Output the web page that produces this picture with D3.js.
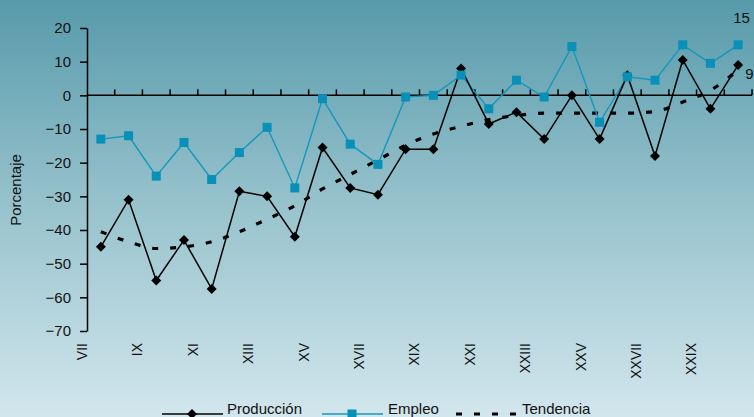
<!DOCTYPE html>
<html>
<head>
<meta charset="utf-8">
<script src="https://cdn.jsdelivr.net/npm/d3@7"></script>
<style>
  html, body { margin: 0; padding: 0; overflow: hidden; }
  svg { display: block; font-family: "Liberation Sans", Arial, sans-serif; }
</style>
</head>
<body>
<svg id="chart" width="754" height="417"></svg>
<script>
// Periods VII .. XXX
const categories = ["VII","VIII","IX","X","XI","XII","XIII","XIV","XV","XVI","XVII","XVIII",
  "XIX","XX","XXI","XXII","XXIII","XXIV","XXV","XXVI","XXVII","XXVIII","XXIX","XXX"];

const produccion = [-45, -31, -55, -43, -57.5, -28.5, -30, -42, -15.5, -27.5, -29.5, -16,
  -16, 8, -8.5, -5, -13, 0, -13, 6, -18, 10.5, -4, 9];

const empleo = [-13, -12, -24, -14, -25, -17, -9.5, -27.5, -1, -14.5, -20.5, -0.5,
  0, 6, -4, 4.5, -0.5, 14.5, -8, 5.5, 4.5, 15, 9.5, 15];

const tendencia = [-40.5, -43.5, -45.5, -45, -43.5, -40.5, -36.8, -32.8, -27.8, -23.5, -19.2, -14.8,
  -11.5, -9.2, -7.2, -6, -5.3, -5.3, -5.3, -5.3, -4.8, -2, 1.5, 7.5];

const yTicks = [20, 10, 0, -10, -20, -30, -40, -50, -60, -70];

const seriesNames = ["Producción", "Empleo", "Tendencia"];

const W = 754, H = 417;
const svg = d3.select("#chart");

// background gradient
const defs = svg.append("defs");
const grad = defs.append("linearGradient").attr("id", "bg")
  .attr("x1", 0).attr("y1", 0).attr("x2", 0).attr("y2", 1);
grad.append("stop").attr("offset", "0%").attr("stop-color", "#579aaa");
grad.append("stop").attr("offset", "50%").attr("stop-color", "#98c3cd");
grad.append("stop").attr("offset", "100%").attr("stop-color", "#d2e6ed");
svg.append("rect").attr("width", W).attr("height", H).attr("fill", "url(#bg)");

const plotL = 87, plotR = 752, plotT = 28, plotB = 331;

const x = d3.scaleBand().domain(categories).range([plotL, plotR]).paddingInner(0).paddingOuter(0);
const cx = c => x(c) + x.bandwidth() / 2;
const y = d3.scaleLinear().domain([-70, 20]).range([plotB, plotT]);

// y axis
const yAxis = svg.append("g")
  .attr("transform", `translate(${plotL},0)`)
  .call(d3.axisLeft(y).tickValues(yTicks).tickSize(7).tickPadding(9).tickSizeOuter(0));
yAxis.select(".domain").attr("stroke", "#000").attr("stroke-width", 1.5);
yAxis.selectAll(".tick line").attr("stroke", "#000").attr("stroke-width", 1.5);
yAxis.selectAll(".tick text").attr("font-size", 15).attr("fill", "#111")
  .attr("font-family", "Liberation Sans, Arial, sans-serif");

// x axis along zero, ticks on category boundaries pointing upward
const y0 = y(0);
svg.append("line").attr("x1", plotL).attr("x2", plotR).attr("y1", y0).attr("y2", y0)
  .attr("stroke", "#000").attr("stroke-width", 1.5);
svg.append("g").selectAll("line").data(categories).join("line")
  .attr("x1", d => x(d) + x.bandwidth()).attr("x2", d => x(d) + x.bandwidth())
  .attr("y1", y0).attr("y2", y0 - 6)
  .attr("stroke", "#000").attr("stroke-width", 1.5);

// category labels (every other), rotated
svg.append("g").selectAll("text")
  .data(categories.filter((d, i) => i % 2 === 0)).join("text")
  .attr("transform", d => `translate(${cx(d) - 19},343) rotate(-90)`)
  .attr("text-anchor", "end")
  .attr("dominant-baseline", "central")
  .attr("font-size", 14)
  .attr("fill", "#111")
  .text(d => d);

// y axis title
svg.append("text")
  .attr("transform", "translate(15,190) rotate(-90)")
  .attr("text-anchor", "middle").attr("dominant-baseline", "central")
  .attr("font-size", 15).attr("fill", "#111")
  .text("Porcentaje");

const empColor = "#1597bd";
const empFill = "#0890b8";

// trend line
svg.append("path")
  .datum(tendencia)
  .attr("fill", "none").attr("stroke", "#000").attr("stroke-width", 3.2)
  .attr("stroke-dasharray", "6,12")
  .attr("d", d3.line().x((d, i) => cx(categories[i])).y(d => y(d)).curve(d3.curveMonotoneX));

// employment
svg.append("path")
  .datum(empleo)
  .attr("fill", "none").attr("stroke", empColor).attr("stroke-width", 1.4)
  .attr("d", d3.line().x((d, i) => cx(categories[i])).y(d => y(d)));

// production
svg.append("path")
  .datum(produccion)
  .attr("fill", "none").attr("stroke", "#000").attr("stroke-width", 1.5)
  .attr("d", d3.line().x((d, i) => cx(categories[i])).y(d => y(d)));

const diamond = d3.symbol().type(d3.symbolSquare).size(50);
svg.append("g").selectAll("path").data(produccion).join("path")
  .attr("d", diamond)
  .attr("transform", (d, i) => `translate(${cx(categories[i])},${y(d)}) rotate(45)`)
  .attr("fill", "#000");

svg.append("g").selectAll("rect").data(empleo).join("rect")
  .attr("x", (d, i) => cx(categories[i]) - 4.5)
  .attr("y", d => y(d) - 4.5)
  .attr("width", 9).attr("height", 9)
  .attr("fill", empFill);

// value labels for the last period
const lastCat = categories[categories.length - 1];
svg.append("text")
  .attr("x", cx(lastCat) - 5).attr("y", y(empleo[empleo.length - 1]) - 22)
  .attr("font-size", 15).attr("fill", "#111")
  .text(d3.format("d")(empleo[empleo.length - 1]));
svg.append("text")
  .attr("x", cx(lastCat) + 7).attr("y", y(produccion[produccion.length - 1]) + 14)
  .attr("font-size", 15).attr("fill", "#111")
  .text(d3.format("d")(produccion[produccion.length - 1]));

// legend
const ly = 414;
const lg = svg.append("g");
// Producción
lg.append("line").attr("x1", 162).attr("x2", 223).attr("y1", ly).attr("y2", ly)
  .attr("stroke", "#000").attr("stroke-width", 1.5);
lg.append("path").attr("d", diamond).attr("transform", `translate(192,${ly}) rotate(45)`).attr("fill", "#000");
lg.append("text").attr("x", 227).attr("y", ly).attr("font-size", 15).attr("fill", "#111").text(seriesNames[0]);
// Empleo
lg.append("line").attr("x1", 322).attr("x2", 383).attr("y1", ly).attr("y2", ly)
  .attr("stroke", empColor).attr("stroke-width", 1.4);
lg.append("rect").attr("x", 352 - 4.5).attr("y", ly - 4.5).attr("width", 9).attr("height", 9).attr("fill", empFill);
lg.append("text").attr("x", 388).attr("y", ly).attr("font-size", 15).attr("fill", "#111").text(seriesNames[1]);
// Tendencia
lg.append("line").attr("x1", 456).attr("x2", 518).attr("y1", ly).attr("y2", ly)
  .attr("stroke", "#000").attr("stroke-width", 3.2).attr("stroke-dasharray", "6,12");
lg.append("text").attr("x", 522).attr("y", ly).attr("font-size", 15).attr("fill", "#111").text(seriesNames[2]);
</script>
</body>
</html>
